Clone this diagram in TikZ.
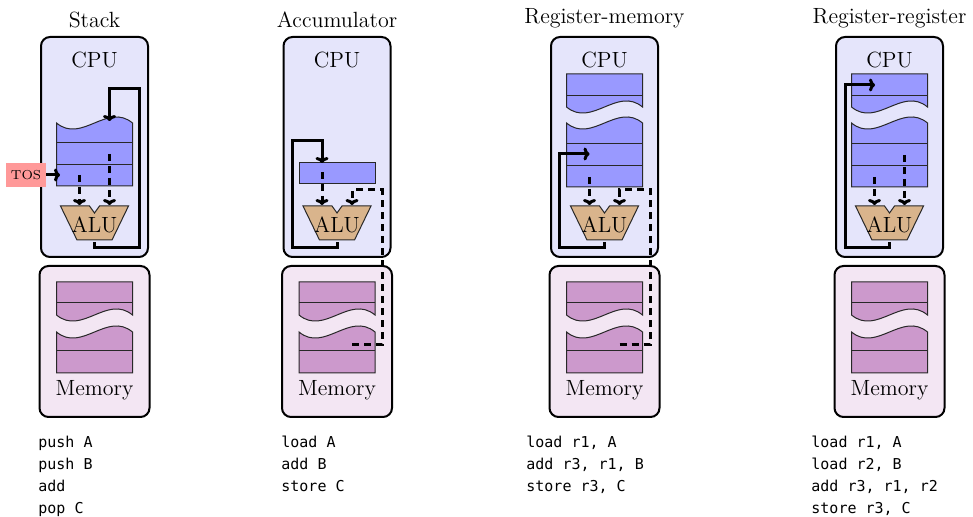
\documentclass[tikz,border=0pt]{standalone}
\usepackage{fontspec}
\newfontfamily\codefont{DejaVu Sans Mono}
\usetikzlibrary{arrows.meta}

\definecolor{cpufill}{RGB}{229,229,251}
\definecolor{memfill}{RGB}{243,230,243}
\definecolor{regfill}{RGB}{153,153,255}
\definecolor{cellfill}{RGB}{204,153,204}
\definecolor{alufill}{RGB}{217,180,140}
\definecolor{tosfill}{RGB}{255,153,153}
\definecolor{edge}{RGB}{40,40,40}

\tikzset{
  cpubox/.style={draw, line width=1pt, rounded corners=4.5pt, fill=cpufill,
    minimum width=53.5pt, minimum height=110pt},
  membox/.style={draw, line width=1pt, rounded corners=4.5pt, fill=memfill,
    minimum width=55pt, minimum height=75.5pt},
  cell/.style={draw=edge, line width=0.5pt},
  alubody/.style={draw=edge, line width=0.5pt, fill=alufill},
  alulabel/.style={minimum height=17pt, inner sep=0pt},
  title/.style={anchor=south},
  tos/.style={fill=tosfill, minimum width=20pt, minimum height=12pt,
    inner sep=0pt, font=\fontsize{6.5}{7}\selectfont},
  bus/.style={line width=1.5pt, -{To[length=3pt,width=6.5pt]}},
  dashbus/.style={bus, dash pattern=on 3.5pt off 2.5pt},
  listing/.style={anchor=north west, inner sep=0pt, align=left,
    font=\codefont\fontsize{7.5}{11}\selectfont},
}

% memory: a full row, a break, a full row
\newcommand\memcells{%
  \draw[cell, fill=cellfill] (-38,282) -- (38,282) -- (38,315)
    .. controls (12.7,294) and (-12.7,336) .. (-38,315) -- cycle;
  \draw[cell] (-38,303) -- (38,303);
  \draw[cell, fill=cellfill] (-38,332)
    .. controls (-12.7,353) and (12.7,311) .. (38,332)
    -- (38,373) -- (-38,373) -- cycle;
  \draw[cell] (-38,351) -- (38,351);
}

% register file: a full row, a break, two full rows
\newcommand\regcells{%
  \draw[cell, fill=regfill] (-38,74) -- (38,74) -- (38,107)
    .. controls (12.7,86) and (-12.7,128) .. (-38,107) -- cycle;
  \draw[cell] (-38,96) -- (38,96);
  \draw[cell, fill=regfill] (-38,123)
    .. controls (-12.7,144) and (12.7,102) .. (38,123)
    -- (38,187) -- (-38,187) -- cycle;
  \draw[cell] (-38,144) -- (38,144) (-38,166) -- (38,166);
}

% ALU with its two inputs
\newcommand\aluunit[1]{%
  \draw[alubody] (-34,206) -- (-5,206) -- (0,213) -- (5,206) -- (34,206)
    -- (17.5,240) -- (-17.5,240) -- cycle;
  \node[alulabel] (alu#1) at (0,225) {ALU};
  \coordinate (alu#1l) at (-15,205);
  \coordinate (alu#1r) at (15,205);
}

\begin{document}
\begin{tikzpicture}[x=0.5pt, y=-0.5pt, font=\fontsize{11}{13}\selectfont]
\useasboundingbox (0,0) rectangle (973,517);

% stack
\begin{scope}[shift={(94.5,0)}]
\node[title] (t1) at (0,35) {Stack};
\node[cpubox] (cpu1) at (0,147) {};
\node (cpulbl1) at (0,60) {CPU};
\node[membox] (mem1) at (0,341.5) {};
\memcells
\node[anchor=base] (memlbl1) at (0,396) {Memory};
\draw[cell, fill=regfill] (-38,123)
  .. controls (-12.7,144) and (12.7,102) .. (38,123)
  -- (38,186) -- (-38,186) -- cycle;
\draw[cell] (-38,143) -- (38,143) (-38,165) -- (38,165);
\aluunit{1}
\node[tos] (tos) at (-68.5,175) {TOS};
\coordinate (top1) at (-34.5,175);
\coordinate (opa1) at (-15,175);
\coordinate (opb1) at (15,154);
\coordinate (push1) at (15,121);
\draw[bus] (tos) -- (top1);
\draw[dashbus] (opa1) -- (alu1l);
\draw[dashbus] (opb1) -- (alu1r);
\draw[bus] (alu1.south) |- (44.5,248) -- (44.5,89) -| (push1);
\node[listing] (code1) at (-56.5,436) {push A\\push B\\add\\pop C};
\end{scope}

% accumulator
\begin{scope}[shift={(337,0)}]
\node[title] (t2) at (0,35) {Accumulator};
\node[cpubox] (cpu2) at (0,147) {};
\node (cpulbl2) at (0,60) {CPU};
\node[membox] (mem2) at (0,341.5) {};
\memcells
\node[anchor=base] (memlbl2) at (0,396) {Memory};
\draw[cell, fill=regfill] (-38,163) rectangle (38,184);
\aluunit{2}
\coordinate (opa2) at (-15,172);
\coordinate (acc2) at (-15,163);
\coordinate (ld2) at (15,345);
\draw[dashbus] (opa2) -- (alu2l);
\draw[dashbus] (ld2) -- (45,345) -- (45,190) -| (alu2r);
\draw[bus] (alu2.south) |- (-45,248) -- (-45,141) -| (acc2);
\node[listing] (code2) at (-56,436) {load A\\add B\\store C};
\end{scope}

% register-memory
\begin{scope}[shift={(604.5,0)}]
\node[title] (t3) at (0,35) {Register-memory};
\node[cpubox] (cpu3) at (0,147) {};
\node (cpulbl3) at (0,60) {CPU};
\node[membox] (mem3) at (0,341.5) {};
\memcells
\node[anchor=base] (memlbl3) at (0,396) {Memory};
\regcells
\aluunit{3}
\coordinate (opa3) at (-15,177);
\coordinate (r3) at (-15,154);
\coordinate (ld3) at (15,345);
\draw[dashbus] (opa3) -- (alu3l);
\draw[dashbus] (ld3) -- (45.5,345) -- (45.5,190) -| (alu3r);
\draw[bus] (alu3.south) |- (-45.5,248) -- (-45.5,154) -- (r3);
\node[listing] (code3) at (-78.5,436) {load r1, A\\add r3, r1, B\\store r3, C};
\end{scope}

% register-register
\begin{scope}[shift={(889.5,0)}]
\node[title] (t4) at (0,35) {Register-register};
\node[cpubox] (cpu4) at (0,147) {};
\node (cpulbl4) at (0,60) {CPU};
\node[membox] (mem4) at (0,341.5) {};
\memcells
\node[anchor=base] (memlbl4) at (0,396) {Memory};
\regcells
\aluunit{4}
\coordinate (opa4) at (-15,177);
\coordinate (opb4) at (15,155);
\coordinate (r4) at (-14.5,85);
\draw[dashbus] (opa4) -- (alu4l);
\draw[dashbus] (opb4) -- (alu4r);
\draw[bus] (alu4.south) |- (-44.5,248) -- (-44.5,85) -- (r4);
\node[listing] (code4) at (-78.5,436) {load r1, A\\load r2, B\\add r3, r1, r2\\store r3, C};
\end{scope}
\end{tikzpicture}
\end{document}
